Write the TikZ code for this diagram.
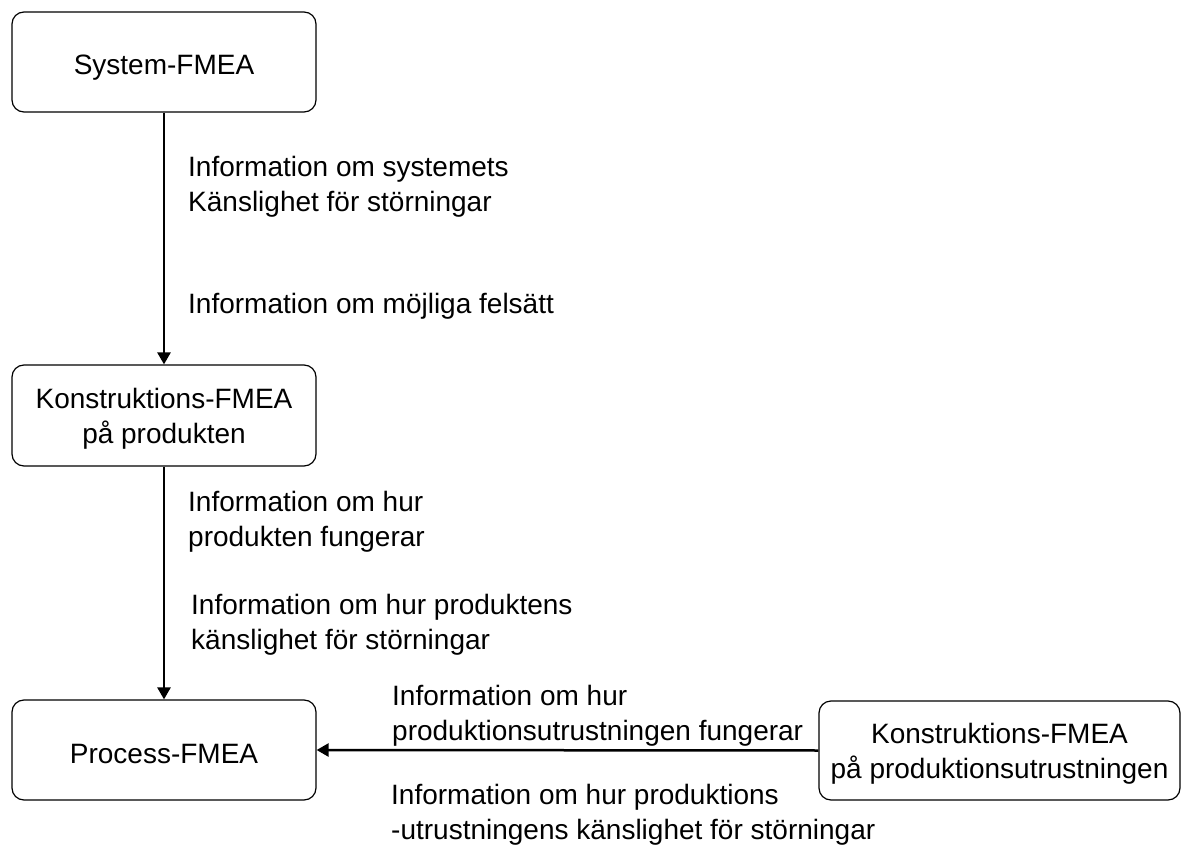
\documentclass[tikz,border=0pt]{standalone}
\usepackage{fontspec}
\setmainfont{Liberation Sans}
\usetikzlibrary{arrows.meta}
\begin{document}
\begin{tikzpicture}[x=1pt,y=-1pt,
  font=\fontsize{28}{35}\selectfont,
  box/.style={draw, line width=1.2pt, rounded corners=12pt, inner sep=0pt,
    align=center, text depth=0pt, minimum width=304pt, minimum height=100pt},
  onebox/.style={box, text height=26pt},
  flow/.style={line width=2.5pt, -{Triangle[length=12pt,width=13pt]}},
  note/.style={inner sep=0pt, anchor=base west, align=left}]
\useasboundingbox (0,0) rectangle (1187,845);

% the four analyses
\node[onebox] (sys) at (164,62) {System-FMEA};
\node[box, minimum height=101pt] (kon) at (164,415.5) {Konstruktions-FMEA\\på produkten};
\node[onebox] (proc) at (164,750) {Process-FMEA};
\node[box, minimum width=361pt, minimum height=99pt] (utr) at (999.5,750.5)
  {Konstruktions-FMEA\\på produktionsutrustningen};

% information flow
\draw[flow] (sys.south) -- (kon.north);
\draw[flow] (kon.south) -- (proc.north);
\draw[flow] (utr.west) -- (proc.east);

% what is passed along each flow (anchored at the baseline of the last line)
\node[note] (n1) at (188,212) {Information om systemets\\Känslighet för störningar};
\node[note] (n2) at (188,314) {Information om möjliga felsätt};
\node[note] (n3) at (188,546) {Information om hur\\produkten fungerar};
\node[note] (n4) at (191,649) {Information om hur produktens\\känslighet för störningar};
\node[note] (n5) at (392,740) {Information om hur\\produktionsutrustningen fungerar};
\node[note] (n6) at (391,839) {Information om hur produktions\\-utrustningens känslighet för störningar};
\end{tikzpicture}
\end{document}
